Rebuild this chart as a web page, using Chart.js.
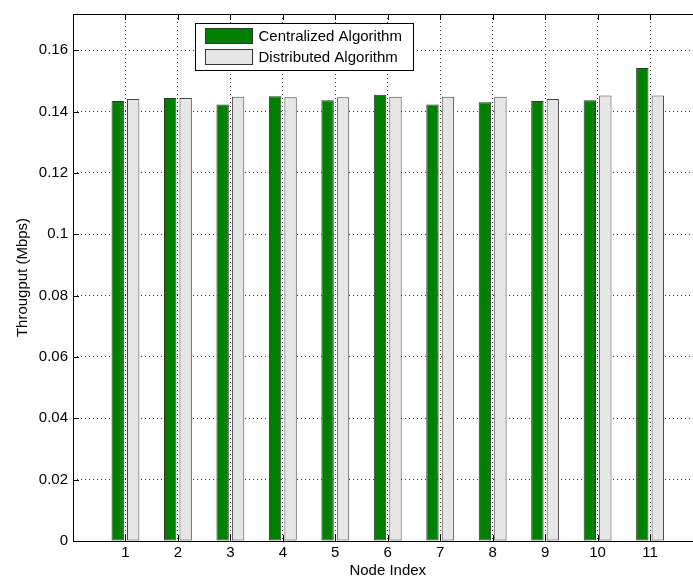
<!DOCTYPE html>
<html>
<head>
<meta charset="utf-8">
<script src="https://cdn.jsdelivr.net/npm/chart.js@4.4.1/dist/chart.umd.min.js"></script>
<style>
  html, body { margin: 0; padding: 0; background: #fff; overflow: hidden; }
  #wrap { width: 705px; height: 581px; }
</style>
</head>
<body>
<div id="wrap"><canvas id="chart" width="705" height="581"></canvas></div>
<script>
// values
const nodeIndex = [1, 2, 3, 4, 5, 6, 7, 8, 9, 10, 11];
const centralized = [0.1434, 0.1444, 0.1423, 0.1450, 0.1437, 0.1455, 0.1423, 0.1430, 0.1434, 0.1437, 0.1542];
const distributed = [0.1441, 0.1444, 0.1448, 0.1447, 0.1447, 0.1448, 0.1448, 0.1448, 0.1441, 0.1452, 0.1452];
const yTicks = [0, 0.02, 0.04, 0.06, 0.08, 0.1, 0.12, 0.14, 0.16];
const seriesNames = ['Centralized Algorithm', 'Distributed Algorithm'];

const FONT = '"Liberation Sans", Arial, Helvetica, sans-serif';

// box round the axes, inward tick marks, and the legend
const matlabAxes = {
  id: 'matlabAxes',
  afterDraw(chart) {
    const {ctx, chartArea: a, scales} = chart;
    const x = scales.x, y = scales.y;
    ctx.save();
    ctx.strokeStyle = '#000';
    ctx.lineWidth = 1;
    ctx.beginPath();
    yTicks.forEach(v => {
      const py = Math.round(y.getPixelForValue(v)) + 0.5;
      ctx.moveTo(a.left, py); ctx.lineTo(a.left + 6, py);
      ctx.moveTo(a.right, py); ctx.lineTo(a.right - 6, py);
    });
    nodeIndex.forEach(v => {
      const px = Math.round(x.getPixelForValue(v)) + 0.5;
      ctx.moveTo(px, a.bottom); ctx.lineTo(px, a.bottom - 6);
      ctx.moveTo(px, a.top); ctx.lineTo(px, a.top + 6);
    });
    ctx.stroke();
    ctx.strokeRect(Math.round(a.left) + 0.5, Math.round(a.top) + 0.5,
                   Math.round(a.right - a.left), Math.round(a.bottom - a.top));

    // legend
    const lx = 195.5, ly = 23.5, lw = 218, lh = 47;
    ctx.fillStyle = '#fff';
    ctx.fillRect(lx, ly, lw, lh);
    ctx.strokeRect(lx, ly, lw, lh);
    ctx.font = '15px ' + FONT;
    ctx.textBaseline = 'middle';
    chart.data.datasets.forEach((ds, i) => {
      const sy = ly + 5 + i * 21;
      ctx.fillStyle = ds.backgroundColor;
      ctx.fillRect(lx + 10, sy, 47, 15);
      ctx.strokeStyle = '#333';
      ctx.strokeRect(lx + 10, sy, 47, 15);
      ctx.fillStyle = '#000';
      ctx.fillText(ds.label, lx + 63, sy + 8);
    });
    ctx.restore();
  }
};

new Chart(document.getElementById('chart'), {
  type: 'bar',
  data: {
    datasets: [
      {
        label: seriesNames[0],
        data: nodeIndex.map((n, i) => ({x: n, y: centralized[i]})),
        backgroundColor: 'rgb(0,128,0)',
        borderColor: '#333',
        borderWidth: 1,
        borderSkipped: false
      },
      {
        label: seriesNames[1],
        data: nodeIndex.map((n, i) => ({x: n, y: distributed[i]})),
        backgroundColor: 'rgb(230,230,230)',
        borderColor: '#444',
        borderWidth: 1,
        borderSkipped: false
      }
    ]
  },
  options: {
    responsive: false,
    animation: false,
    categoryPercentage: 0.59,
    barPercentage: 0.8,
    layout: {padding: {left: 0, top: 9, right: 2.5, bottom: 0}},
    plugins: {legend: {display: false}, tooltip: {enabled: false}},
    scales: {
      x: {
        type: 'linear',
        min: 0,
        max: 12,
        offset: false,
        afterFit(s) { s.height = 40; },
        afterBuildTicks(s) { s.ticks = nodeIndex.map(v => ({value: v})); },
        border: {display: false, dash: [1, 3]},
        grid: {
          offset: false,
          drawTicks: false,
          color: '#333',
          lineWidth: 1
        },
        ticks: {
          padding: 3,
          color: '#000',
          font: {family: FONT, size: 15},
          callback: v => String(v)
        },
        title: {
          display: true,
          text: 'Node Index',
          color: '#000',
          font: {family: FONT, size: 15},
          padding: {top: 0, bottom: 1}
        }
      },
      y: {
        min: 0,
        max: 0.1718,
        afterFit(s) { s.width = 73; },
        afterBuildTicks(s) { s.ticks = yTicks.map(v => ({value: v})); },
        border: {display: false, dash: [1, 3]},
        grid: {
          drawTicks: false,
          color: '#333',
          lineWidth: 1
        },
        ticks: {
          padding: 5,
          color: '#000',
          font: {family: FONT, size: 15},
          callback: v => String(+v.toFixed(2))
        },
        title: {
          display: true,
          text: 'Througput (Mbps)',
          color: '#000',
          font: {family: FONT, size: 15},
          padding: {top: 14, bottom: 0}
        }
      }
    }
  },
  plugins: [matlabAxes]
});
</script>
</body>
</html>
